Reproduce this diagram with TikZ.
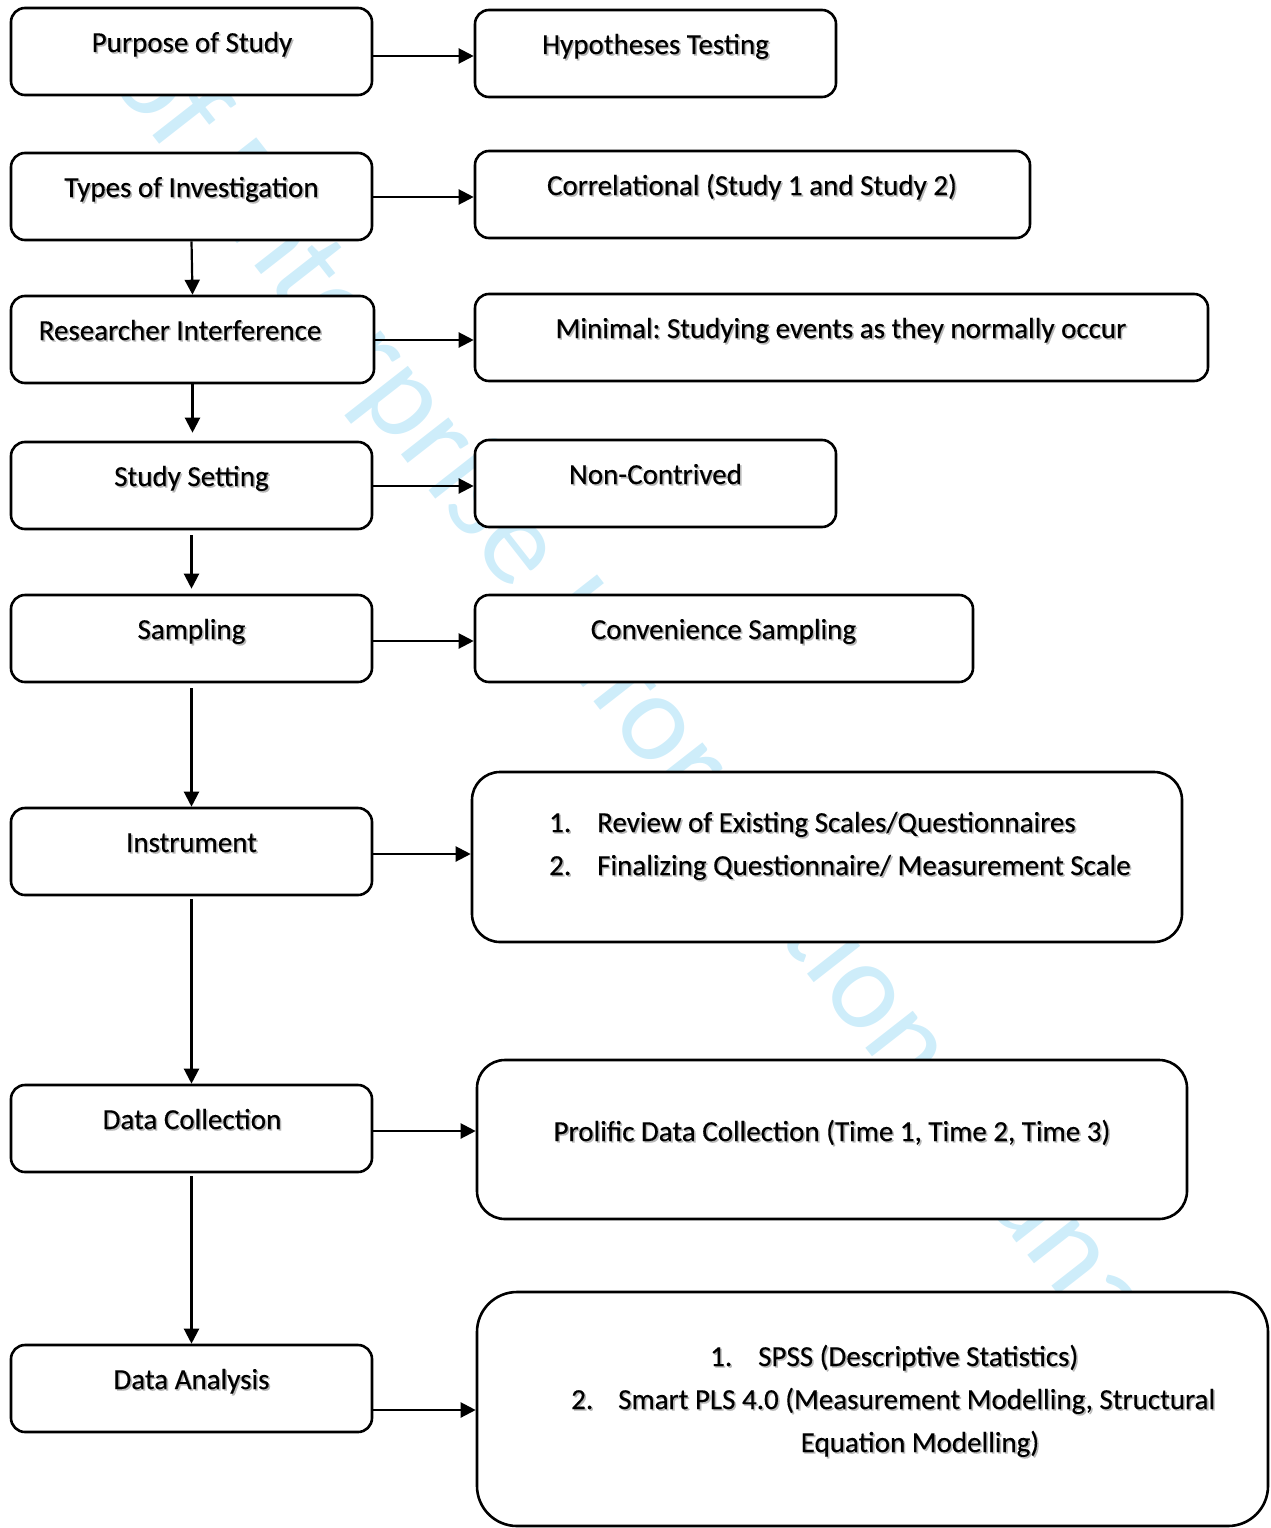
\documentclass[tikz,border=0pt]{standalone}
\usepackage{fontspec}
\setmainfont[FakeBold=0.3]{Carlito}
\newfontfamily\wmfont{Carlito}
\usetikzlibrary{arrows.meta}
\definecolor{wmcol}{RGB}{206,237,250}
\newcommand{\shd}[1]{\leavevmode\rlap{\kern1.6pt\raisebox{-1.6pt}{\textcolor{black!28}{#1}}}#1}
\frenchspacing
\begin{document}
\begin{tikzpicture}[x=1pt,y=-1pt,
  font=\fontsize{29}{43}\selectfont,
  box/.style={draw, line width=2.6pt, rounded corners=14pt, fill=white, inner sep=0pt, minimum height=87pt},
  bigbox/.style={box, rounded corners=28pt},
  lbl/.style={anchor=base, inner sep=0pt},
  lst/.style={anchor=base west, inner sep=0pt},
  arr/.style={-{Triangle[length=15pt,width=15pt]}, line width=2.2pt}]
\useasboundingbox (0,0) rectangle (1270,1528);
% watermark
\begin{scope}
\clip (0,0) rectangle (1270,1440);
\node[rotate=-52, anchor=base west, text=wmcol, font=\wmfont\fontsize{126}{126}\selectfont, inner sep=0pt] (wmk) at (105,75) {of Enterprise Information Management};
\end{scope}
% left boxes
\node[box, minimum width=361pt] (L1) at (191.5,51.5) {};
\node[box, minimum width=361pt] (L2) at (191.5,196.5) {};
\node[box, minimum width=363pt] (L3) at (192.5,339.5) {};
\node[box, minimum width=361pt] (L4) at (191.5,485.5) {};
\node[box, minimum width=361pt] (L5) at (191.5,638.5) {};
\node[box, minimum width=361pt] (L6) at (191.5,851.5) {};
\node[box, minimum width=361pt] (L7) at (191.5,1128.5) {};
\node[box, minimum width=361pt] (L8) at (191.5,1388.5) {};
% right boxes
\node[box, minimum width=361pt] (R1) at (655.5,53.5) {};
\node[box, minimum width=555pt] (R2) at (752.5,194.5) {};
\node[box, minimum width=733pt] (R3) at (841.5,337.5) {};
\node[box, minimum width=361pt] (R4) at (655.5,483.5) {};
\node[box, minimum width=498pt] (R5) at (724,638.5) {};
\node[bigbox, minimum width=710pt, minimum height=170pt] (R6) at (827,857) {};
\node[bigbox, minimum width=710pt, minimum height=159pt] (R7) at (832,1139.5) {};
\node[bigbox, rounded corners=40pt, minimum width=791pt, minimum height=234pt] (R8) at (872.5,1409) {};
% horizontal arrows
\draw[arr] (L1.east |- 0,56) -- (R1.west |- 0,56);
\draw[arr] (L2.east |- 0,197) -- (R2.west |- 0,197);
\draw[arr] (L3.east |- 0,340) -- (R3.west |- 0,340);
\draw[arr] (L4.east |- 0,486) -- (R4.west |- 0,486);
\draw[arr] (L5.east |- 0,641) -- (R5.west |- 0,641);
\draw[arr] (L6.east |- 0,854) -- (R6.west |- 0,854);
\draw[arr] (L7.east |- 0,1131) -- (R7.west |- 0,1131);
\draw[arr] (L8.east |- 0,1410) -- (R8.west |- 0,1410);
% vertical arrows
\draw[arr] (L2.south) -- (L3.north);
\draw[arr, shorten >=8pt] (L3.south) -- (L3.south |- L4.north);
\draw[arr, shorten <=5pt, shorten >=5pt] (L4.south) -- (L5.north);
\draw[arr, shorten <=5pt] (L5.south) -- (L6.north);
\draw[arr, shorten <=3pt] (L6.south) -- (L7.north);
\draw[arr, shorten <=3pt] (L7.south) -- (L8.north);
% left texts
\node[lbl] (tL1) at (192,52) {\shd{Purpose of Study}};
\node[lbl] (tL2) at (191.5,197) {\shd{Types of Investigation}};
\node[lbl] (tL3) at (180,340) {\shd{Researcher Interference}};
\node[lbl] (tL4) at (191.5,486) {\shd{Study Setting}};
\node[lbl] (tL5) at (191.5,639) {\shd{Sampling}};
\node[lbl] (tL6) at (191.5,852) {\shd{Instrument}};
\node[lbl] (tL7) at (192,1129) {\shd{Data Collection}};
\node[lbl] (tL8) at (191.5,1389) {\shd{Data Analysis}};
% right texts
\node[lbl] (tR1) at (655.5,54) {\shd{Hypotheses Testing}};
\node[lbl] (tR2) at (752,195) {\shd{Correlational (Study 1 and Study 2)}};
\node[lbl] (tR3) at (841,338) {\shd{Minimal: Studying events as they normally occur}};
\node[lbl] (tR4) at (655.5,484) {\shd{Non-Contrived}};
\node[lbl] (tR5) at (723.5,639) {\shd{Convenience Sampling}};
\node[lst] (tR6a) at (549,832) {\makebox[48pt][l]{\shd{1.}}\shd{Review of Existing Scales/Questionnaires}};
\node[lst] (tR6b) at (549,875) {\makebox[48pt][l]{\shd{2.}}\shd{Finalizing Questionnaire/ Measurement Scale}};
\node[lbl] (tR7) at (832,1141) {\shd{Prolific Data Collection (Time 1, Time 2, Time 3)}};
\node[lst] (tR8a) at (710,1366) {\makebox[48pt][l]{\shd{1.}}\shd{SPSS (Descriptive Statistics)}};
\node[lst] (tR8b) at (571,1409) {\makebox[47pt][l]{\shd{2.}}\shd{Smart PLS 4.0 (Measurement Modelling, Structural}};
\node[lbl] (tR8c) at (920,1452) {\shd{Equation Modelling)}};
\end{tikzpicture}
\end{document}
